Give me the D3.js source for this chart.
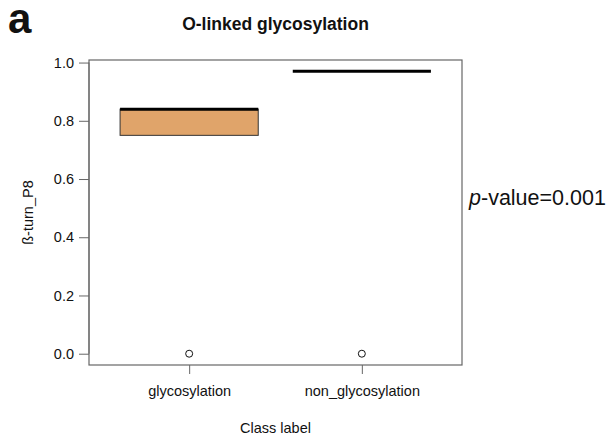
<!DOCTYPE html>
<html>
<head>
<meta charset="utf-8">
<script src="https://cdn.jsdelivr.net/npm/d3@7"></script>
<style>
  body { margin: 0; background: #fff; }
  text { font-family: "Liberation Sans", Arial, Helvetica, sans-serif; fill: #111; }
</style>
</head>
<body>
<svg id="chart" width="608" height="441"></svg>
<script>
// box statistics
var categories = ['glycosylation', 'non_glycosylation'];
var lowerQuartile = [0.75, 0.97];
var medians = [0.84, 0.97];
var upperQuartile = [0.84, 0.97];
var whiskerLow = [0.75, 0.97];
var whiskerHigh = [0.84, 0.97];
var outliers = [[0.0], [0.0]];
var yTicks = [0.0, 0.2, 0.4, 0.6, 0.8, 1.0];

var boxFill = '#e0a46a';
var frameColor = '#666';

var drawChart = function() {
  var svg = d3.select('#chart');
  var pLeft = 89, pRight = 462, pTop = 60, pBottom = 365;

  // R-style 4% padding on both axes
  var x = d3.scaleLinear().domain([0.42, 2.58]).range([pLeft, pRight]);
  var y = d3.scaleLinear().domain([-0.0388, 1.0088]).range([pBottom, pTop]);
  var boxHalf = 0.4;

  var boxes = categories.map(function(c, i) {
    return {
      name: c, pos: i + 1,
      q1: lowerQuartile[i], med: medians[i], q3: upperQuartile[i],
      lo: whiskerLow[i], hi: whiskerHigh[i], out: outliers[i]
    };
  });

  // frame
  svg.append('rect')
    .attr('x', pLeft).attr('y', pTop)
    .attr('width', pRight - pLeft).attr('height', pBottom - pTop)
    .attr('fill', 'none').attr('stroke', frameColor).attr('stroke-width', 1.2);

  // y axis
  var yAxis = d3.axisLeft(y).tickValues(yTicks).tickFormat(d3.format('.1f'))
    .tickSize(10).tickPadding(5);
  var gy = svg.append('g').attr('transform', 'translate(' + pLeft + ',0)').call(yAxis);
  gy.select('.domain').attr('stroke', frameColor).attr('d', 'M0,' + y(0) + 'V' + y(1));
  gy.selectAll('.tick line').attr('stroke', frameColor);
  gy.selectAll('.tick text').style('font-size', '14.5px').attr('fill', '#111')
    .style('font-family', '"Liberation Sans", Arial, sans-serif');

  // x axis
  var xAxis = d3.axisBottom(x).tickValues([1, 2]).tickFormat(function(d) { return categories[d - 1]; })
    .tickSize(9).tickPadding(12);
  var gx = svg.append('g').attr('transform', 'translate(0,' + pBottom + ')').call(xAxis);
  gx.select('.domain').remove();
  gx.selectAll('.tick line').attr('stroke', frameColor);
  gx.selectAll('.tick text').style('font-size', '14.5px').attr('fill', '#111')
    .style('font-family', '"Liberation Sans", Arial, sans-serif');

  // boxes
  var g = svg.append('g');
  boxes.forEach(function(b) {
    var x0 = x(b.pos - boxHalf), x1 = x(b.pos + boxHalf);
    if (b.q3 > b.q1) {
      g.append('rect')
        .attr('x', x0).attr('y', y(b.q3))
        .attr('width', x1 - x0).attr('height', y(b.q1) - y(b.q3))
        .attr('fill', boxFill).attr('stroke', '#333').attr('stroke-width', 1);
    }
    g.append('line')
      .attr('x1', x0).attr('x2', x1)
      .attr('y1', y(b.med)).attr('y2', y(b.med))
      .attr('stroke', '#000').attr('stroke-width', 3);
    b.out.forEach(function(v) {
      g.append('circle')
        .attr('cx', x(b.pos)).attr('cy', y(v)).attr('r', 3.5)
        .attr('fill', 'none').attr('stroke', '#111').attr('stroke-width', 1);
    });
  });

  // titles
  svg.append('text')
    .attr('x', (pLeft + pRight) / 2).attr('y', 30)
    .attr('text-anchor', 'middle')
    .style('font-size', '17.5px').style('font-weight', 'bold')
    .text('O-linked glycosylation');

  svg.append('text')
    .attr('x', 8).attr('y', 33)
    .style('font-size', '42px').style('font-weight', 'bold')
    .text('a');

  svg.append('text')
    .attr('transform', 'translate(33,' + ((pTop + pBottom) / 2) + ') rotate(-90)')
    .attr('text-anchor', 'middle')
    .style('font-size', '14.5px')
    .text('ß-turn_P8');

  svg.append('text')
    .attr('x', (pLeft + pRight) / 2).attr('y', 433)
    .attr('text-anchor', 'middle')
    .style('font-size', '14.5px')
    .text('Class label');

  var pv = svg.append('text')
    .attr('x', 469).attr('y', 205)
    .style('font-size', '21.5px');
  pv.append('tspan').style('font-style', 'italic').text('p');
  pv.append('tspan').text('-value=0.001');
};

drawChart();
</script>
</body>
</html>
